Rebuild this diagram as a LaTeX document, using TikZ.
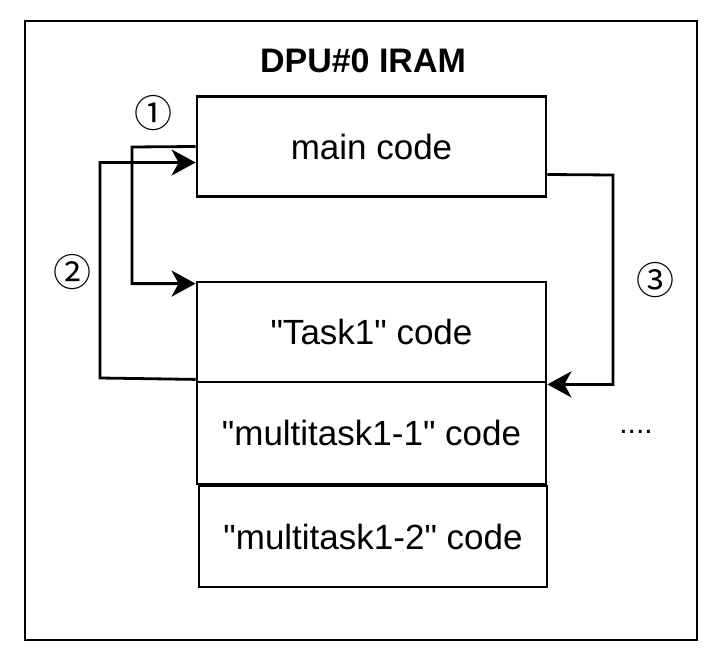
\documentclass[tikz,border=0pt]{standalone}
\usepackage{fontspec}
\setmainfont{Liberation Sans}
\newfontfamily\symfont{Noto Sans CJK SC}
\usetikzlibrary{arrows.meta}
\begin{document}
\begin{tikzpicture}[x=1pt,y=-1pt,
  lw/.style={line width=2.8pt},
  blk/.style={draw,lw,minimum width=349pt,minimum height=100pt,inner sep=0pt,font=\fontsize{35}{40}\selectfont},
  arr/.style={lw,-{Stealth[length=24pt,width=26pt,inset=7pt]}},
  num/.style={inner sep=0pt,font=\symfont\fontsize{38}{40}\selectfont}]
\useasboundingbox (0,0) rectangle (720,653);
\node[draw,lw,minimum width=672pt,minimum height=619pt,inner sep=0pt] (frame) at (361,330.5) {};
\node[font=\bfseries\fontsize{34}{38}\selectfont] (title) at (363,61) {DPU\#0 IRAM};
\node[blk] (main) at (371.5,146.5) {main code};
\node[blk] (task1) at (371.5,332) {\textquotedbl Task1\textquotedbl{} code};
\node[blk,minimum height=102pt] (mt1) at (371.5,433) {\textquotedbl multitask1-1\textquotedbl{} code};
\node[blk,minimum width=348pt,minimum height=101pt] (mt2) at (373,536.5) {\textquotedbl multitask1-2\textquotedbl{} code};
\node[num] (n1) at (153,113) {①};
\node[num] (n2) at (72,272) {②};
\node[num] (n3) at (655,280) {③};
\node[font=\fontsize{30}{34}\selectfont] (dots) at (636,432) {....};
\coordinate (c1) at (132,147);
\coordinate (c2) at (100,378);
\coordinate (c3) at (613,175);
\draw[arr] (main.west) -- (c1) |- ([yshift=-3pt]task1.north west);
\draw[arr] ([yshift=4pt]task1.south west) -- (c2) |- ([yshift=-16pt]main.west);
\draw[arr] ([yshift=-28pt]main.east) -- (c3) |- ([yshift=-1pt]task1.south east);
\end{tikzpicture}
\end{document}
